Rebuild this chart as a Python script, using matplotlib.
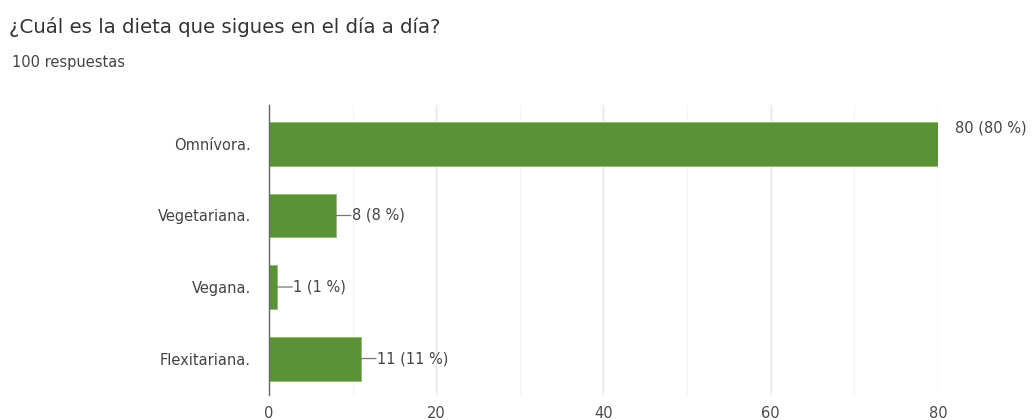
import matplotlib
matplotlib.use("Agg")
import matplotlib.pyplot as plt
from matplotlib.ticker import MultipleLocator

categories = ["Omnívora.", "Vegetariana.", "Vegana.", "Flexitariana."]
counts = [80, 8, 1, 11]
total = 100
x_ticks = [0, 20, 40, 60, 80]

title = "¿Cuál es la dieta que sigues en el día a día?"
subtitle = f"{total} respuestas"

bar_color = "#5c9237"
bar_edge = "#8cbf6a"
text_dark = "#444444"

plt.rcParams["font.family"] = ["DejaVu Sans"]

fig = plt.figure(figsize=(10.33, 4.2), dpi=100)
ax = fig.add_axes([0.2604, 0.0595, 0.6476, 0.6905])

y = list(range(len(categories)))
ax.barh(y, counts, height=0.615, color=bar_color, edgecolor=bar_edge,
        linewidth=0.6, zorder=3)
ax.set_ylim(3.51, -0.545)
ax.set_xlim(0, 80)

ax.set_yticks(y)
ax.set_yticklabels(categories, fontsize=10.5, color=text_dark)
ax.set_xticks(x_ticks)
ax.set_xticklabels([str(t) for t in x_ticks], fontsize=10.5, color="#4a4a4a")
ax.xaxis.set_minor_locator(MultipleLocator(10))
ax.tick_params(axis="both", which="both", length=0)
ax.tick_params(axis="y", pad=13)
ax.tick_params(axis="x", pad=8)

ax.grid(axis="x", which="major", color="#e6e6e6", linewidth=1.0, zorder=0)
ax.grid(axis="x", which="minor", color="#f4f4f4", linewidth=0.8, zorder=0)
for side in ["top", "right", "bottom"]:
    ax.spines[side].set_visible(False)
ax.spines["left"].set_color("#666666")
ax.spines["left"].set_linewidth(1.0)
ax.spines["left"].set_zorder(4)

# value labels: leader line + text next to short bars, plain text beyond the axis end
for yi, c in zip(y, counts):
    label = f"{c} ({c * 100 // total} %)"
    if c >= ax.get_xlim()[1]:
        ax.annotate(label, xy=(c, yi), xytext=(12.5, 11.5), textcoords="offset points",
                    ha="left", va="center", fontsize=10.5, color=text_dark,
                    annotation_clip=False)
    else:
        ax.annotate("", xy=(c, yi), xytext=(c + 1.8, yi),
                    arrowprops=dict(arrowstyle="-", color="#777777", lw=0.9,
                                    shrinkA=0, shrinkB=0))
        ax.text(c + 1.9, yi, label, ha="left", va="center",
                fontsize=10.5, color=text_dark)

fig.text(0.0087, 0.935, title, fontsize=14.2, color="#333333", ha="left", va="center")
fig.text(0.0116, 0.852, subtitle, fontsize=10.5, color=text_dark, ha="left", va="center")

fig.savefig("out.png", dpi=100, facecolor="white")
